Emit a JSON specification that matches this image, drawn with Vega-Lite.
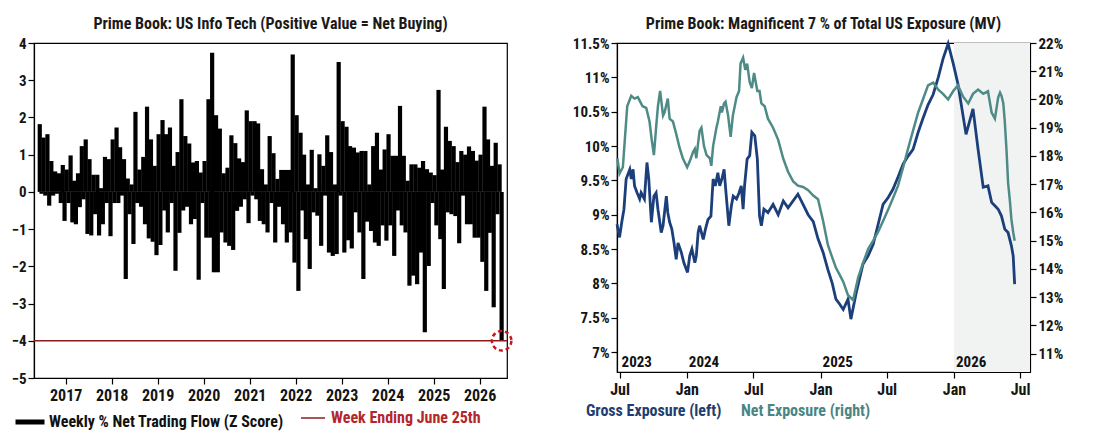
{
  "$schema": "https://vega.github.io/schema/vega-lite/v6.json",
  "background": "white",
  "padding": {"left": 10, "top": 15, "right": 5, "bottom": 5},
  "spacing": 110,
  "bounds": "flush",
  "config": {
    "font": "'Roboto Condensed', 'DejaVu Sans Condensed', 'Liberation Sans Narrow', Roboto, sans-serif",
    "view": {"stroke": "#000000", "strokeWidth": 1.2},
    "axis": {"grid": false, "domainColor": "#000000", "tickColor": "#000000", "labelColor": "#151515", "labelFontWeight": "bold", "domainWidth": 1.2, "tickWidth": 1.2, "tickSize": 6, "labelOverlap": false},
    "axisY": {"labelOverlap": false},
    "title": {"fontSize": 16, "fontWeight": "bold", "color": "#1a1a1a", "anchor": "middle", "offset": 4},
    "legend": {"title": null, "labelFontWeight": "bold", "labelFontSize": 16, "labelLimit": 500}
  },
  "resolve": {
    "scale": {"x": "independent", "y": "independent", "fill": "independent", "stroke": "independent", "color": "independent"},
    "legend": {"fill": "independent", "stroke": "independent", "color": "independent"}
  },
  "datasets": {
    "flow": [
      {"d":"2016-06-09","v":1.82},{"d":"2016-06-23","v":-0.05},
      {"d":"2016-07-09","v":1.46},{"d":"2016-07-23","v":-0.1},
      {"d":"2016-08-09","v":1.55},{"d":"2016-08-23","v":-0.37},
      {"d":"2016-09-09","v":0.83},{"d":"2016-09-23","v":-0.1},
      {"d":"2016-10-09","v":0.55},{"d":"2016-10-23","v":-0.05},
      {"d":"2016-11-09","v":0.5},{"d":"2016-11-23","v":-0.3},
      {"d":"2016-12-09","v":0.72},{"d":"2016-12-23","v":-0.78},
      {"d":"2017-01-09","v":0.6},{"d":"2017-01-23","v":-0.3},
      {"d":"2017-02-09","v":0.98},{"d":"2017-02-23","v":-0.82},
      {"d":"2017-03-09","v":0.3},{"d":"2017-03-23","v":-0.87},
      {"d":"2017-04-09","v":0.5},{"d":"2017-04-23","v":-0.41},
      {"d":"2017-05-09","v":1.23},{"d":"2017-05-23","v":-0.2},
      {"d":"2017-06-09","v":1.41},{"d":"2017-06-23","v":-1.13},
      {"d":"2017-07-09","v":0.88},{"d":"2017-07-23","v":-1.17},
      {"d":"2017-08-09","v":0.46},{"d":"2017-08-23","v":-0.6},
      {"d":"2017-09-09","v":0.46},{"d":"2017-09-23","v":-1.17},
      {"d":"2017-10-09","v":0.1},{"d":"2017-10-23","v":-0.87},
      {"d":"2017-11-09","v":0.94},{"d":"2017-11-23","v":-0.3},
      {"d":"2017-12-09","v":0.88},{"d":"2017-12-23","v":-1.19},
      {"d":"2018-01-09","v":1.41},{"d":"2018-01-23","v":-0.3},
      {"d":"2018-02-09","v":1.73},{"d":"2018-02-23","v":-0.3},
      {"d":"2018-03-09","v":1.2},{"d":"2018-03-23","v":-0.1},
      {"d":"2018-04-09","v":0.88},{"d":"2018-04-23","v":-2.34},
      {"d":"2018-05-09","v":0.36},{"d":"2018-05-23","v":-0.6},
      {"d":"2018-06-09","v":0.2},{"d":"2018-06-23","v":-1.4},
      {"d":"2018-07-09","v":2.15},{"d":"2018-07-23","v":-0.3},
      {"d":"2018-08-09","v":0.6},{"d":"2018-08-23","v":-0.4},
      {"d":"2018-09-09","v":0.94},{"d":"2018-09-23","v":-0.87},
      {"d":"2018-10-09","v":2.29},{"d":"2018-10-23","v":-1.25},
      {"d":"2018-11-09","v":1.41},{"d":"2018-11-23","v":-1.34},
      {"d":"2018-12-09","v":0.7},{"d":"2018-12-23","v":-1.7},
      {"d":"2019-01-09","v":1.55},{"d":"2019-01-23","v":-1.43},
      {"d":"2019-02-09","v":1.93},{"d":"2019-02-23","v":-0.5},
      {"d":"2019-03-09","v":1.55},{"d":"2019-03-23","v":-1.09},
      {"d":"2019-04-09","v":1.73},{"d":"2019-04-23","v":-0.3},
      {"d":"2019-05-09","v":0.7},{"d":"2019-05-23","v":-2.12},
      {"d":"2019-06-09","v":1.07},{"d":"2019-06-23","v":-1.1},
      {"d":"2019-07-09","v":2.49},{"d":"2019-07-23","v":-0.5},
      {"d":"2019-08-09","v":1.5},{"d":"2019-08-23","v":-0.4},
      {"d":"2019-09-09","v":1.3},{"d":"2019-09-23","v":-0.87},
      {"d":"2019-10-09","v":0.79},{"d":"2019-10-23","v":-0.73},
      {"d":"2019-11-09","v":0.83},{"d":"2019-11-23","v":-2.36},
      {"d":"2019-12-09","v":0.52},{"d":"2019-12-23","v":-0.3},
      {"d":"2020-01-09","v":0.83},{"d":"2020-01-23","v":-1.23},
      {"d":"2020-02-09","v":2.49},{"d":"2020-02-23","v":-1.23},
      {"d":"2020-03-09","v":3.74},{"d":"2020-03-23","v":-2.16},
      {"d":"2020-04-09","v":2.06},{"d":"2020-04-23","v":-2.16},
      {"d":"2020-05-09","v":1.7},{"d":"2020-05-23","v":-1.09},
      {"d":"2020-06-09","v":0.5},{"d":"2020-06-23","v":-1.36},
      {"d":"2020-07-09","v":0.65},{"d":"2020-07-23","v":-1.45},
      {"d":"2020-08-09","v":1.52},{"d":"2020-08-23","v":-1.56},
      {"d":"2020-09-09","v":1.31},{"d":"2020-09-23","v":-0.51},
      {"d":"2020-10-09","v":0.9},{"d":"2020-10-23","v":-0.4},
      {"d":"2020-11-09","v":0.8},{"d":"2020-11-23","v":-0.2},
      {"d":"2020-12-09","v":2.19},{"d":"2020-12-23","v":-0.84},
      {"d":"2021-01-09","v":1.9},{"d":"2021-01-23","v":-0.1},
      {"d":"2021-02-09","v":1.9},{"d":"2021-02-23","v":-0.2},
      {"d":"2021-03-09","v":1.84},{"d":"2021-03-23","v":-0.78},
      {"d":"2021-04-09","v":0.61},{"d":"2021-04-23","v":-0.87},
      {"d":"2021-05-09","v":0.2},{"d":"2021-05-23","v":-1.09},
      {"d":"2021-06-09","v":1.5},{"d":"2021-06-23","v":-0.3},
      {"d":"2021-07-09","v":1.04},{"d":"2021-07-23","v":-1.36},
      {"d":"2021-08-09","v":0.35},{"d":"2021-08-23","v":-0.4},
      {"d":"2021-09-09","v":0.59},{"d":"2021-09-23","v":-0.87},
      {"d":"2021-10-09","v":0.59},{"d":"2021-10-23","v":-1.36},
      {"d":"2021-11-09","v":0.59},{"d":"2021-11-23","v":-1.09},
      {"d":"2021-12-09","v":3.69},{"d":"2021-12-23","v":-1.9},
      {"d":"2022-01-09","v":2.06},{"d":"2022-01-23","v":-2.66},
      {"d":"2022-02-09","v":1.59},{"d":"2022-02-23","v":-0.5},
      {"d":"2022-03-09","v":1.0},{"d":"2022-03-23","v":-1.27},
      {"d":"2022-04-09","v":0.2},{"d":"2022-04-23","v":-2.07},
      {"d":"2022-05-09","v":1.13},{"d":"2022-05-23","v":-0.55},
      {"d":"2022-06-09","v":0.1},{"d":"2022-06-23","v":-0.64},
      {"d":"2022-07-09","v":1.01},{"d":"2022-07-23","v":-1.45},
      {"d":"2022-08-09","v":0.7},{"d":"2022-08-23","v":-0.1},
      {"d":"2022-09-09","v":1.52},{"d":"2022-09-23","v":-1.63},
      {"d":"2022-10-09","v":1.07},{"d":"2022-10-23","v":-1.72},
      {"d":"2022-11-09","v":0.2},{"d":"2022-11-23","v":-1.67},
      {"d":"2022-12-09","v":3.49},{"d":"2022-12-23","v":-0.1},
      {"d":"2023-01-09","v":1.9},{"d":"2023-01-23","v":-1.63},
      {"d":"2023-02-09","v":1.75},{"d":"2023-02-23","v":-1.3},
      {"d":"2023-03-09","v":1.23},{"d":"2023-03-23","v":-1.52},
      {"d":"2023-04-09","v":1.19},{"d":"2023-04-23","v":-0.55},
      {"d":"2023-05-09","v":1.06},{"d":"2023-05-23","v":-1.09},
      {"d":"2023-06-09","v":1.1},{"d":"2023-06-23","v":-2.34},
      {"d":"2023-07-09","v":1.1},{"d":"2023-07-23","v":-0.8},
      {"d":"2023-08-09","v":0.2},{"d":"2023-08-23","v":-1.05},
      {"d":"2023-09-09","v":1.23},{"d":"2023-09-23","v":-1.36},
      {"d":"2023-10-09","v":1.59},{"d":"2023-10-23","v":-1.45},
      {"d":"2023-11-09","v":0.6},{"d":"2023-11-23","v":-0.9},
      {"d":"2023-12-09","v":1.14},{"d":"2023-12-23","v":-1.31},
      {"d":"2024-01-09","v":1.55},{"d":"2024-01-23","v":-0.9},
      {"d":"2024-02-09","v":0.97},{"d":"2024-02-23","v":-1.72},
      {"d":"2024-03-09","v":0.97},{"d":"2024-03-23","v":-0.5},
      {"d":"2024-04-09","v":2.31},{"d":"2024-04-23","v":-0.9},
      {"d":"2024-05-09","v":0.97},{"d":"2024-05-23","v":-1.09},
      {"d":"2024-06-09","v":0.3},{"d":"2024-06-23","v":-2.52},
      {"d":"2024-07-09","v":0.74},{"d":"2024-07-23","v":-2.25},
      {"d":"2024-08-09","v":0.74},{"d":"2024-08-23","v":-2.48},
      {"d":"2024-09-09","v":0.65},{"d":"2024-09-23","v":-1.63},
      {"d":"2024-10-09","v":0.83},{"d":"2024-10-23","v":-3.77},
      {"d":"2024-11-09","v":0.61},{"d":"2024-11-23","v":-1.99},
      {"d":"2024-12-09","v":0.52},{"d":"2024-12-23","v":-0.3},
      {"d":"2025-01-09","v":0.45},{"d":"2025-01-23","v":-0.9},
      {"d":"2025-02-09","v":2.74},{"d":"2025-02-23","v":-1.27},
      {"d":"2025-03-09","v":0.6},{"d":"2025-03-23","v":-2.61},
      {"d":"2025-04-09","v":1.75},{"d":"2025-04-23","v":-0.55},
      {"d":"2025-05-09","v":1.37},{"d":"2025-05-23","v":-0.6},
      {"d":"2025-06-09","v":1.23},{"d":"2025-06-23","v":-0.65},
      {"d":"2025-07-09","v":0.8},{"d":"2025-07-23","v":-1.38},
      {"d":"2025-08-09","v":1.1},{"d":"2025-08-23","v":-0.1},
      {"d":"2025-09-09","v":1.0},{"d":"2025-09-23","v":-0.87},
      {"d":"2025-10-09","v":1.22},{"d":"2025-10-23","v":-0.87},
      {"d":"2025-11-09","v":1.1},{"d":"2025-11-23","v":-1.23},
      {"d":"2025-12-09","v":0.84},{"d":"2025-12-23","v":-1.23},
      {"d":"2026-01-09","v":1.0},{"d":"2026-01-23","v":-1.88},
      {"d":"2026-02-09","v":2.29},{"d":"2026-02-23","v":-2.66},
      {"d":"2026-03-09","v":1.41},{"d":"2026-03-23","v":-1.1},
      {"d":"2026-04-09","v":0.7},{"d":"2026-04-23","v":-3.1},
      {"d":"2026-05-09","v":1.32},{"d":"2026-05-23","v":-0.6},
      {"d":"2026-06-09","v":0.74},{"d":"2026-06-25","v":-4.0}
    ],
    "gross": [
      {"d":"2023-06-24","v":8.86},{"d":"2023-07-01","v":8.67},{"d":"2023-07-07","v":8.89},{"d":"2023-07-13","v":9.08},
      {"d":"2023-07-19","v":9.52},{"d":"2023-07-29","v":9.66},{"d":"2023-08-02","v":9.52},{"d":"2023-08-07","v":9.66},
      {"d":"2023-08-11","v":9.42},{"d":"2023-08-18","v":9.32},{"d":"2023-08-25","v":9.23},{"d":"2023-08-29","v":9.32},
      {"d":"2023-09-07","v":9.23},{"d":"2023-09-14","v":9.76},{"d":"2023-09-19","v":9.52},{"d":"2023-09-26","v":8.89},
      {"d":"2023-10-03","v":9.27},{"d":"2023-10-09","v":9.32},{"d":"2023-10-14","v":9.08},{"d":"2023-10-23","v":8.74},
      {"d":"2023-10-28","v":8.84},{"d":"2023-11-06","v":9.27},{"d":"2023-11-10","v":9.03},{"d":"2023-11-15","v":8.89},
      {"d":"2023-11-21","v":8.79},{"d":"2023-11-27","v":8.59},{"d":"2023-12-03","v":8.35},{"d":"2023-12-08","v":8.59},
      {"d":"2023-12-17","v":8.45},{"d":"2023-12-24","v":8.30},{"d":"2024-01-03","v":8.16},{"d":"2024-01-09","v":8.40},
      {"d":"2024-01-15","v":8.50},{"d":"2024-01-23","v":8.30},{"d":"2024-01-27","v":8.40},{"d":"2024-02-01","v":8.74},
      {"d":"2024-02-05","v":8.84},{"d":"2024-02-15","v":8.64},{"d":"2024-02-21","v":8.79},{"d":"2024-02-28","v":8.93},
      {"d":"2024-03-07","v":8.98},{"d":"2024-03-13","v":9.52},{"d":"2024-03-19","v":9.42},{"d":"2024-03-26","v":9.61},
      {"d":"2024-03-31","v":9.42},{"d":"2024-04-06","v":9.52},{"d":"2024-04-12","v":9.66},{"d":"2024-04-18","v":9.27},
      {"d":"2024-04-25","v":8.84},{"d":"2024-05-02","v":9.13},{"d":"2024-05-07","v":9.27},{"d":"2024-05-16","v":9.23},
      {"d":"2024-05-23","v":9.32},{"d":"2024-05-29","v":9.42},{"d":"2024-06-03","v":9.08},{"d":"2024-06-07","v":9.42},
      {"d":"2024-06-14","v":9.81},{"d":"2024-06-21","v":9.86},{"d":"2024-06-27","v":10.2},{"d":"2024-07-05","v":10.15},
      {"d":"2024-07-12","v":9.81},{"d":"2024-07-18","v":8.98},{"d":"2024-07-23","v":8.84},{"d":"2024-07-30","v":9.08},
      {"d":"2024-08-10","v":9.03},{"d":"2024-08-24","v":9.15},{"d":"2024-09-07","v":9.0},{"d":"2024-09-21","v":9.2},
      {"d":"2024-10-04","v":9.1},{"d":"2024-10-31","v":9.3},{"d":"2024-11-14","v":9.15},{"d":"2024-11-28","v":9.0},
      {"d":"2024-12-12","v":8.9},{"d":"2024-12-25","v":8.65},{"d":"2025-01-08","v":8.45},{"d":"2025-01-21","v":8.2},
      {"d":"2025-02-02","v":8.0},{"d":"2025-02-12","v":7.77},{"d":"2025-02-22","v":7.7},{"d":"2025-03-04","v":7.62},
      {"d":"2025-03-17","v":7.77},{"d":"2025-03-25","v":7.48},{"d":"2025-04-08","v":7.85},{"d":"2025-04-27","v":8.28},
      {"d":"2025-05-11","v":8.4},{"d":"2025-05-25","v":8.57},{"d":"2025-06-07","v":8.85},{"d":"2025-06-21","v":9.15},
      {"d":"2025-07-05","v":9.25},{"d":"2025-07-18","v":9.37},{"d":"2025-08-01","v":9.55},{"d":"2025-08-15","v":9.74},
      {"d":"2025-08-28","v":9.85},{"d":"2025-09-11","v":9.95},{"d":"2025-09-25","v":10.2},{"d":"2025-10-08","v":10.4},
      {"d":"2025-10-22","v":10.6},{"d":"2025-11-05","v":10.75},{"d":"2025-11-19","v":11.0},{"d":"2025-12-02","v":11.27},
      {"d":"2025-12-16","v":11.49},{"d":"2025-12-30","v":11.2},{"d":"2026-01-12","v":10.9},{"d":"2026-01-18","v":10.7},
      {"d":"2026-02-03","v":10.17},{"d":"2026-02-22","v":10.54},{"d":"2026-03-08","v":9.95},{"d":"2026-03-22","v":9.4},
      {"d":"2026-04-04","v":9.42},{"d":"2026-04-14","v":9.18},{"d":"2026-04-23","v":9.13},{"d":"2026-05-02","v":9.08},
      {"d":"2026-05-11","v":8.98},{"d":"2026-05-20","v":8.79},{"d":"2026-05-29","v":8.74},{"d":"2026-06-07","v":8.55},
      {"d":"2026-06-12","v":8.4},{"d":"2026-06-16","v":7.99}
    ],
    "net": [
      {"d":"2023-06-25","v":17.92},{"d":"2023-07-01","v":17.38},{"d":"2023-07-10","v":17.6},{"d":"2023-07-22","v":19.76},
      {"d":"2023-08-02","v":20.13},{"d":"2023-08-11","v":20.03},{"d":"2023-08-20","v":20.08},{"d":"2023-09-02","v":19.76},
      {"d":"2023-09-12","v":19.70},{"d":"2023-09-21","v":19.22},{"d":"2023-09-27","v":18.57},{"d":"2023-10-03","v":18.03},
      {"d":"2023-10-09","v":19.0},{"d":"2023-10-14","v":19.76},{"d":"2023-10-20","v":20.30},{"d":"2023-10-28","v":19.43},
      {"d":"2023-11-01","v":19.54},{"d":"2023-11-10","v":20.03},{"d":"2023-11-15","v":19.32},{"d":"2023-11-24","v":19.22},
      {"d":"2023-12-03","v":18.78},{"d":"2023-12-12","v":18.30},{"d":"2023-12-21","v":17.92},{"d":"2024-01-02","v":17.6},
      {"d":"2024-01-09","v":17.81},{"d":"2024-01-18","v":18.14},{"d":"2024-01-23","v":18.25},{"d":"2024-01-27","v":17.92},
      {"d":"2024-02-05","v":18.89},{"d":"2024-02-10","v":19.0},{"d":"2024-02-17","v":18.35},{"d":"2024-02-24","v":18.03},
      {"d":"2024-03-04","v":17.92},{"d":"2024-03-08","v":17.65},{"d":"2024-03-13","v":18.35},{"d":"2024-03-22","v":19.0},
      {"d":"2024-03-26","v":19.22},{"d":"2024-04-03","v":19.76},{"d":"2024-04-06","v":19.54},{"d":"2024-04-12","v":19.86},
      {"d":"2024-04-16","v":19.92},{"d":"2024-04-23","v":19.43},{"d":"2024-04-30","v":18.68},{"d":"2024-05-06","v":19.43},
      {"d":"2024-05-16","v":20.08},{"d":"2024-05-23","v":20.30},{"d":"2024-05-27","v":21.27},{"d":"2024-06-03","v":21.48},
      {"d":"2024-06-09","v":21.05},{"d":"2024-06-14","v":21.27},{"d":"2024-06-21","v":20.62},{"d":"2024-06-27","v":20.40},
      {"d":"2024-07-03","v":20.94},{"d":"2024-07-12","v":20.30},{"d":"2024-07-18","v":20.30},{"d":"2024-07-23","v":19.86},
      {"d":"2024-08-01","v":19.76},{"d":"2024-08-10","v":19.32},{"d":"2024-08-24","v":19.0},{"d":"2024-09-07","v":18.57},
      {"d":"2024-09-21","v":17.9},{"d":"2024-10-04","v":17.44},{"d":"2024-10-18","v":17.1},{"d":"2024-10-31","v":16.95},
      {"d":"2024-11-14","v":16.9},{"d":"2024-11-28","v":16.79},{"d":"2024-12-12","v":16.6},{"d":"2024-12-25","v":16.47},
      {"d":"2025-01-08","v":15.7},{"d":"2025-01-21","v":14.85},{"d":"2025-02-02","v":14.4},{"d":"2025-02-12","v":14.04},
      {"d":"2025-02-22","v":13.8},{"d":"2025-03-04","v":13.55},{"d":"2025-03-17","v":13.07},{"d":"2025-03-31","v":12.9},
      {"d":"2025-04-14","v":13.7},{"d":"2025-04-27","v":14.2},{"d":"2025-05-11","v":14.7},{"d":"2025-05-25","v":15.0},
      {"d":"2025-06-07","v":15.3},{"d":"2025-06-21","v":15.7},{"d":"2025-07-05","v":16.1},{"d":"2025-07-18","v":16.5},
      {"d":"2025-08-01","v":16.95},{"d":"2025-08-15","v":17.6},{"d":"2025-08-28","v":18.24},{"d":"2025-09-11","v":18.9},
      {"d":"2025-09-25","v":19.54},{"d":"2025-10-08","v":20.0},{"d":"2025-10-22","v":20.5},{"d":"2025-11-05","v":20.6},
      {"d":"2025-11-19","v":20.35},{"d":"2025-12-02","v":20.2},{"d":"2025-12-16","v":20.0},{"d":"2025-12-30","v":20.3},
      {"d":"2026-01-12","v":20.5},{"d":"2026-01-26","v":20.1},{"d":"2026-02-09","v":19.86},{"d":"2026-02-22","v":20.2},
      {"d":"2026-03-08","v":20.35},{"d":"2026-03-22","v":20.2},{"d":"2026-04-04","v":20.29},{"d":"2026-04-14","v":19.54},
      {"d":"2026-04-23","v":19.32},{"d":"2026-05-02","v":20.08},{"d":"2026-05-07","v":20.24},{"d":"2026-05-11","v":20.13},
      {"d":"2026-05-16","v":19.86},{"d":"2026-05-20","v":19.22},{"d":"2026-05-25","v":18.14},{"d":"2026-05-29","v":17.06},
      {"d":"2026-06-03","v":16.41},{"d":"2026-06-07","v":15.77},{"d":"2026-06-12","v":15.3},{"d":"2026-06-16","v":15.0}
    ]
  },
  "hconcat": [
    {
      "title": {"text": "Prime Book: US Info Tech (Positive Value = Net Buying)"},
      "width": 473,
      "height": 335,
      "layer": [
        {
          "data": {"name": "flow"},
          "mark": {"type": "bar", "size": 4.2, "clip": true},
          "encoding": {
            "x": {
              "field": "d", "type": "temporal", "title": null,
              "scale": {"type": "utc", "domain": [{"year": 2016, "month": 6, "date": 3, "utc": true}, {"year": 2026, "month": 6, "date": 28, "utc": true}]},
              "axis": {
                "values": [
                  {"year": 2017, "month": 1, "date": 1, "utc": true}, {"year": 2018, "month": 1, "date": 1, "utc": true},
                  {"year": 2019, "month": 1, "date": 1, "utc": true}, {"year": 2020, "month": 1, "date": 1, "utc": true},
                  {"year": 2021, "month": 1, "date": 1, "utc": true}, {"year": 2022, "month": 1, "date": 1, "utc": true},
                  {"year": 2023, "month": 1, "date": 1, "utc": true}, {"year": 2024, "month": 1, "date": 1, "utc": true},
                  {"year": 2025, "month": 1, "date": 1, "utc": true}, {"year": 2026, "month": 1, "date": 1, "utc": true}
                ],
                "format": "%Y", "labelFontSize": 16, "labelPadding": 3, "labelOverlap": false
              }
            },
            "y": {
              "field": "v", "type": "quantitative", "title": null,
              "scale": {"domain": [-5, 4], "nice": false},
              "axis": {"values": [-5, -4, -3, -2, -1, 0, 1, 2, 3, 4], "labelFontSize": 15, "labelPadding": 2, "labelOverlap": false, "labelFlush": false}
            },
            "fill": {
              "datum": "Weekly % Net Trading Flow (Z Score)",
              "scale": {"range": ["#000000"]},
              "legend": {"orient": "none", "legendX": -21, "legendY": 362, "symbolType": "stroke", "symbolStrokeColor": "#000000", "symbolStrokeWidth": 5, "symbolSize": 841, "labelOffset": 2, "labelColor": "#111111"}
            }
          }
        },
        {
          "data": {"values": [{}]},
          "mark": {"type": "rule", "strokeWidth": 1.5},
          "encoding": {
            "y": {"datum": -4, "axis": {"values": [-5, -4, -3, -2, -1, 0, 1, 2, 3, 4], "labelFontSize": 15, "labelPadding": 2, "labelOverlap": false, "labelFlush": false}},
            "stroke": {
              "datum": "Week Ending June 25th",
              "scale": {"range": ["#8b1c1c"]},
              "legend": {"orient": "none", "legendX": 266, "legendY": 362, "symbolType": "stroke", "symbolStrokeWidth": 1.5, "symbolSize": 576, "labelOffset": 5, "labelColor": "#b3262b"}
            }
          }
        },
        {
          "data": {"name": "flow"},
          "transform": [{"filter": "datum.v <= -4"}],
          "mark": {"type": "point", "shape": "circle", "size": 380, "filled": false, "strokeDash": [4, 3], "strokeWidth": 2.5, "color": "#c8161d", "opacity": 1},
          "encoding": {
            "x": {"field": "d", "type": "temporal", "scale": {"type": "utc"}},
            "y": {"field": "v", "type": "quantitative", "axis": {"values": [-5, -4, -3, -2, -1, 0, 1, 2, 3, 4], "labelFontSize": 15, "labelPadding": 2, "labelOverlap": false, "labelFlush": false}}
          }
        }
      ]
    },
    {
      "title": {"text": "Prime Book: Magnificent 7 % of Total US Exposure (MV)"},
      "width": 413,
      "height": 329,
      "layer": [
        {
          "layer": [
            {
              "data": {"values": [{"s": "2026-01-01", "e": "2026-07-28"}]},
              "mark": {"type": "rect", "color": "#f1f3f2"},
              "encoding": {
                "x": {"field": "s", "type": "temporal", "title": null, "scale": {"type": "utc"}},
                "x2": {"field": "e"}
              }
            },
            {
              "data": {"name": "gross"},
              "mark": {"type": "line", "strokeWidth": 2.8},
              "encoding": {
                "x": {
                  "field": "d", "type": "temporal", "title": null,
                  "scale": {"type": "utc", "domain": [{"year": 2023, "month": 6, "date": 24, "utc": true}, {"year": 2026, "month": 7, "date": 28, "utc": true}]},
                  "axis": {
                    "values": [
                      {"year": 2023, "month": 7, "date": 1, "utc": true}, {"year": 2024, "month": 1, "date": 1, "utc": true},
                      {"year": 2024, "month": 7, "date": 1, "utc": true}, {"year": 2025, "month": 1, "date": 1, "utc": true},
                      {"year": 2025, "month": 7, "date": 1, "utc": true}, {"year": 2026, "month": 1, "date": 1, "utc": true},
                      {"year": 2026, "month": 7, "date": 1, "utc": true}
                    ],
                    "format": "%b", "labelFontSize": 16, "labelPadding": 3, "labelOverlap": false
                  }
                },
                "y": {
                  "field": "v", "type": "quantitative", "title": null,
                  "scale": {"domain": [6.71, 11.5], "nice": false, "zero": false},
                  "axis": {"orient": "left", "values": [7, 7.5, 8, 8.5, 9, 9.5, 10, 10.5, 11, 11.5], "labelExpr": "format(datum.value, '.1~f') + '%'", "labelFontSize": 15, "labelPadding": 2, "labelOverlap": false, "labelFlush": false}
                },
                "color": {
                  "datum": "Gross Exposure (left)",
                  "scale": {"range": ["#1c3f7c"]},
                  "legend": {"orient": "none", "legendX": -47, "legendY": 360, "symbolOpacity": 0, "symbolSize": 0, "labelOffset": 0, "labelColor": "#1f3d6e"}
                }
              }
            },
            {
              "data": {"values": [{"d": "2023-07-01", "t": "2023"}, {"d": "2024-01-01", "t": "2024"}, {"d": "2025-01-01", "t": "2025"}, {"d": "2026-01-01", "t": "2026"}]},
              "mark": {"type": "text", "align": "left", "baseline": "middle", "dx": 2, "fontSize": 15, "fontWeight": "bold", "color": "#111111"},
              "encoding": {
                "x": {"field": "d", "type": "temporal", "title": null, "scale": {"type": "utc"}},
                "y": {"datum": 6.857, "axis": {"orient": "left", "values": [7, 7.5, 8, 8.5, 9, 9.5, 10, 10.5, 11, 11.5], "labelExpr": "format(datum.value, '.1~f') + '%'", "labelFontSize": 15, "labelPadding": 2, "labelOverlap": false, "labelFlush": false}},
                "text": {"field": "t"}
              }
            }
          ]
        },
        {
          "data": {"name": "net"},
          "mark": {"type": "line", "strokeWidth": 2.5},
          "encoding": {
            "x": {"field": "d", "type": "temporal", "title": null, "scale": {"type": "utc"}},
            "y": {
              "field": "v", "type": "quantitative", "title": null,
              "scale": {"domain": [10.35, 22], "nice": false, "zero": false},
              "axis": {"orient": "right", "values": [11, 12, 13, 14, 15, 16, 17, 18, 19, 20, 21, 22], "labelExpr": "datum.value + '%'", "labelFontSize": 15, "labelPadding": 2, "labelOverlap": false, "labelFlush": false}
            },
            "stroke": {
              "datum": "Net Exposure (right)",
              "scale": {"range": ["#4f8b86"]},
              "legend": {"orient": "none", "legendX": 108, "legendY": 360, "symbolOpacity": 0, "symbolSize": 0, "labelOffset": 0, "labelColor": "#4a8583"}
            }
          }
        }
      ],
      "resolve": {"scale": {"y": "independent"}}
    }
  ]
}
